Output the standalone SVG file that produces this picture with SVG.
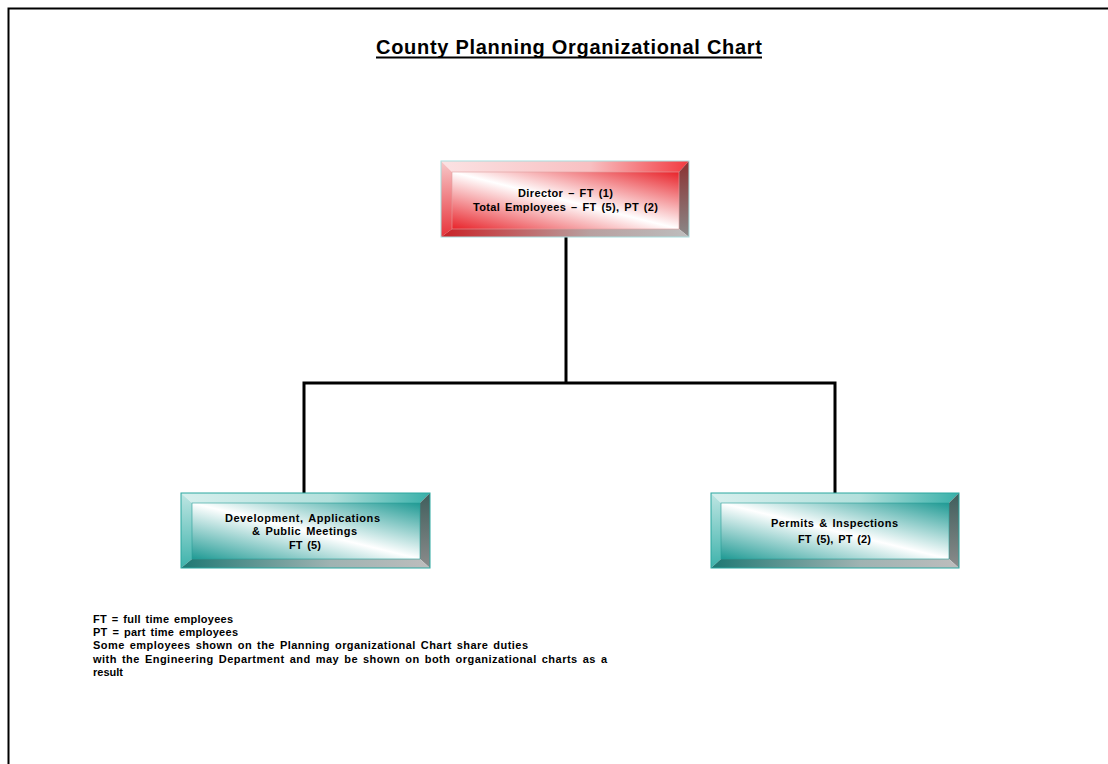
<svg xmlns="http://www.w3.org/2000/svg" width="1108" height="764" viewBox="0 0 1108 764">
<defs>
<style>
.t{font-family:"Liberation Sans",Arial,sans-serif;font-weight:bold;fill:#000}
.n{font-size:11px;word-spacing:1.5px}
.f{font-size:11px;word-spacing:1.5px}
.conn{stroke:#000;stroke-width:3;fill:none}
</style>
<linearGradient id="redFace" x1="0" y1="1" x2="1" y2="0">
<stop offset="0" stop-color="#e8232a"/>
<stop offset="0.5" stop-color="#ffffff"/>
<stop offset="1" stop-color="#e8232a"/>
</linearGradient>
<linearGradient id="redTop" x1="0" y1="0" x2="1" y2="0">
<stop offset="0" stop-color="#fbe2e3"/>
<stop offset="0.6" stop-color="#f8c0c2"/>
<stop offset="1" stop-color="#f23a40"/>
</linearGradient>
<linearGradient id="redLeft" x1="0" y1="0" x2="0" y2="1">
<stop offset="0" stop-color="#f7c9ca"/>
<stop offset="1" stop-color="#e8333a"/>
</linearGradient>
<linearGradient id="redRight" x1="0" y1="0" x2="0" y2="1">
<stop offset="0" stop-color="#8a3030"/>
<stop offset="1" stop-color="#8a8a8a"/>
</linearGradient>
<linearGradient id="redBottom" x1="0" y1="0" x2="1" y2="0">
<stop offset="0" stop-color="#c82226"/>
<stop offset="0.6" stop-color="#b8a0a0"/>
<stop offset="1" stop-color="#bdbdbd"/>
</linearGradient>
<linearGradient id="tealFace" x1="0" y1="1" x2="1" y2="0">
<stop offset="0" stop-color="#1f9a94"/>
<stop offset="0.5" stop-color="#ffffff"/>
<stop offset="1" stop-color="#1f9a94"/>
</linearGradient>
<linearGradient id="tealTop" x1="0" y1="0" x2="1" y2="0">
<stop offset="0" stop-color="#d6efed"/>
<stop offset="0.6" stop-color="#b3e0dc"/>
<stop offset="1" stop-color="#38b0a9"/>
</linearGradient>
<linearGradient id="tealLeft" x1="0" y1="0" x2="0" y2="1">
<stop offset="0" stop-color="#bfe6e3"/>
<stop offset="1" stop-color="#3db2ab"/>
</linearGradient>
<linearGradient id="tealRight" x1="0" y1="0" x2="0" y2="1">
<stop offset="0" stop-color="#3f5e5c"/>
<stop offset="1" stop-color="#8c8c8c"/>
</linearGradient>
<linearGradient id="tealBottom" x1="0" y1="0" x2="1" y2="0">
<stop offset="0" stop-color="#1e7873"/>
<stop offset="0.6" stop-color="#9fb3b2"/>
<stop offset="1" stop-color="#bdbdbd"/>
</linearGradient>
</defs>
<rect x="0" y="0" width="1108" height="764" fill="#fff"/>
<path d="M8.5 764 V8.5 H1108" fill="none" stroke="#000" stroke-width="2"/>
<text class="t" x="376" y="54" font-size="20" textLength="386" lengthAdjust="spacing">County Planning Organizational Chart</text>
<line x1="376" y1="57.5" x2="762" y2="57.5" stroke="#000" stroke-width="1.8"/>

<g id="connectors">
<path class="conn" d="M566 237 V383"/>
<path class="conn" d="M304 493 V383 H835 V493"/>
</g>

<g id="director">
<polygon points="441,161 689,161 679,172 452,172" fill="url(#redTop)"/>
<polygon points="441,161 452,172 452,229 441,237" fill="url(#redLeft)"/>
<polygon points="689,161 689,237 679,229 679,172" fill="url(#redRight)"/>
<polygon points="441,237 452,229 679,229 689,237" fill="url(#redBottom)"/>
<rect x="452" y="172" width="227" height="57" fill="url(#redFace)"/>
<rect x="441" y="161" width="248" height="76" fill="none" stroke="#a8dede" stroke-width="1"/>
<rect x="452" y="172" width="227" height="57" fill="none" stroke="#e0a0a0" stroke-width="0.6"/>
<text class="t n" x="518" y="197" textLength="95" lengthAdjust="spacing">Director – FT (1)</text>
<text class="t n" x="473" y="211" textLength="185" lengthAdjust="spacing">Total Employees – FT (5), PT (2)</text>
</g>

<g id="development">
<polygon points="181,493 430,493 420,503 192,503" fill="url(#tealTop)"/>
<polygon points="181,493 192,503 192,559 181,568" fill="url(#tealLeft)"/>
<polygon points="430,493 430,568 420,559 420,503" fill="url(#tealRight)"/>
<polygon points="181,568 192,559 420,559 430,568" fill="url(#tealBottom)"/>
<rect x="192" y="503" width="228" height="56" fill="url(#tealFace)"/>
<rect x="181" y="493" width="249" height="75" fill="none" stroke="#2aa7a0" stroke-width="1"/>
<rect x="192" y="503" width="228" height="56" fill="none" stroke="#2a9e98" stroke-width="0.6"/>
<text class="t n" x="225" y="522" textLength="155" lengthAdjust="spacing">Development,  Applications</text>
<text class="t n" x="252" y="535" textLength="105" lengthAdjust="spacing">&amp; Public Meetings</text>
<text class="t n" x="289" y="549" textLength="32" lengthAdjust="spacing">FT (5)</text>
</g>

<g id="permits">
<polygon points="711,493 959,493 949,503 721,503" fill="url(#tealTop)"/>
<polygon points="711,493 721,503 721,559 711,568" fill="url(#tealLeft)"/>
<polygon points="959,493 959,568 949,559 949,503" fill="url(#tealRight)"/>
<polygon points="711,568 721,559 949,559 959,568" fill="url(#tealBottom)"/>
<rect x="721" y="503" width="228" height="56" fill="url(#tealFace)"/>
<rect x="711" y="493" width="248" height="75" fill="none" stroke="#2aa7a0" stroke-width="1"/>
<rect x="721" y="503" width="228" height="56" fill="none" stroke="#2a9e98" stroke-width="0.6"/>
<text class="t n" x="771" y="527" textLength="127" lengthAdjust="spacing">Permits  &amp; Inspections</text>
<text class="t n" x="798" y="543" textLength="73" lengthAdjust="spacing">FT (5), PT (2)</text>
</g>

<g id="footnote">
<text class="t f" x="93" y="623" textLength="140" lengthAdjust="spacing">FT = full time employees</text>
<text class="t f" x="93" y="636" textLength="145" lengthAdjust="spacing">PT = part time employees</text>
<text class="t f" x="93" y="649" textLength="435" lengthAdjust="spacing">Some employees shown on the Planning organizational Chart share duties</text>
<text class="t f" x="93" y="663" textLength="514" lengthAdjust="spacing">with the Engineering Department and may be shown on both organizational charts as a</text>
<text class="t f" x="93" y="676" textLength="30" lengthAdjust="spacing">result</text>
</g>
</svg>
